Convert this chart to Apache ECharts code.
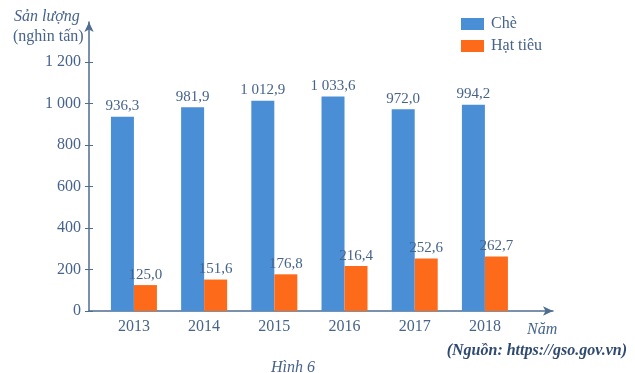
<!DOCTYPE html>
<html><head><meta charset="utf-8">
<script src="https://cdn.jsdelivr.net/npm/echarts@6/dist/echarts.min.js"></script>
<style>html,body{margin:0;padding:0;background:#fff}#c{width:635px;height:373px}</style>
</head><body><div id="c"></div>
<script>
const years = [2013, 2014, 2015, 2016, 2017, 2018];
const cheValues = [936.3, 981.9, 1012.9, 1033.6, 972.0, 994.2];
const hatTieuValues = [125.0, 151.6, 176.8, 216.4, 252.6, 262.7];
const yTicks = [0, 200, 400, 600, 800, 1000, 1200];
const seriesNames = ['Chè', 'Hạt tiêu'];

const txt = '#46638c';
const axisCol = '#4f6d8f';
const serif = '"Liberation Serif","DejaVu Serif",serif';

function fmtNum(v, dec) {
  let s = v.toFixed(dec);
  let parts = s.split('.');
  let ip = parts[0].replace(/\B(?=(\d{3})+(?!\d))/g, ' ');
  return dec ? ip + ',' + parts[1] : ip;
}

const chart = echarts.init(document.getElementById('c'));
const yBase = { type: 'value', min: 0, max: 1393, splitLine: { show: false } };
chart.setOption({
  animation: false,
  backgroundColor: '#fff',
  textStyle: { fontFamily: serif },
  grid: { left: 89, right: 82, top: 22, bottom: 62, containLabel: false },
  legend: {
    orient: 'vertical', left: 456, top: 11, itemWidth: 23, itemHeight: 12, itemGap: 6,
    icon: 'rect',
    textStyle: { color: txt, fontSize: 16, fontFamily: serif, padding: [0, 0, 0, 2] },
    data: seriesNames
  },
  title: [
    { text: 'Sản lượng', left: 9, top: 4, textStyle: { color: txt, fontSize: 16, fontStyle: 'italic', fontWeight: 'normal', fontFamily: serif } },
    { text: '(nghìn tấn)', left: 8, top: 24, textStyle: { color: txt, fontSize: 16, fontWeight: 'normal', fontFamily: serif } },
    { text: 'Năm', left: 522, top: 317, textStyle: { color: txt, fontSize: 16, fontStyle: 'italic', fontWeight: 'normal', fontFamily: serif } },
    { text: '(Nguồn: https://gso.gov.vn)', right: 3, top: 338, textStyle: { color: '#2f4a70', fontSize: 16, fontStyle: 'italic', fontWeight: 'bold', fontFamily: serif } },
    { text: 'Hình 6', left: 266, top: 355, textStyle: { color: txt, fontSize: 16, fontStyle: 'italic', fontWeight: 'normal', fontFamily: serif } }
  ],
  xAxis: {
    type: 'value', min: 2012.36, max: 2018.97,
    splitLine: { show: false },
    axisLine: { show: true, lineStyle: { color: axisCol, width: 1.5 }, symbol: ['none', 'arrow'], symbolSize: [7, 10] },
    axisTick: { show: false },
    axisLabel: { customValues: years, color: txt, fontSize: 16, fontFamily: serif, margin: 8, formatter: v => String(v) }
  },
  yAxis: [
    Object.assign({}, yBase, {
      axisLine: { show: true, lineStyle: { color: axisCol, width: 1.5 }, symbol: ['none', 'arrow'], symbolSize: [7, 10] },
      axisTick: { show: true, customValues: yTicks, length: 4, lineStyle: { color: axisCol } },
      axisLabel: { customValues: yTicks, color: txt, fontSize: 16, fontFamily: serif, margin: 8, formatter: v => fmtNum(v, 0) }
    }),
    Object.assign({}, yBase, {
      position: 'left',
      axisLine: { show: false },
      axisTick: { show: true, inside: true, customValues: yTicks, length: 4, lineStyle: { color: axisCol } },
      axisLabel: { show: false }
    })
  ],
  series: [
    {
      name: seriesNames[0], type: 'bar', barWidth: 23, barGap: '0%',
      itemStyle: { color: '#4a8fd6' },
      label: { show: true, position: 'top', distance: 3, color: txt, fontSize: 15, fontFamily: serif, formatter: p => fmtNum(p.value[1], 1) },
      data: years.map((y, i) => [y, cheValues[i]])
    },
    {
      name: seriesNames[1], type: 'bar', barWidth: 23, barGap: '0%',
      itemStyle: { color: '#fd6a1a' },
      label: { show: true, position: 'top', distance: 3, color: txt, fontSize: 15, fontFamily: serif, formatter: p => fmtNum(p.value[1], 1) },
      data: years.map((y, i) => [y, hatTieuValues[i]])
    }
  ]
});
</script></body></html>
